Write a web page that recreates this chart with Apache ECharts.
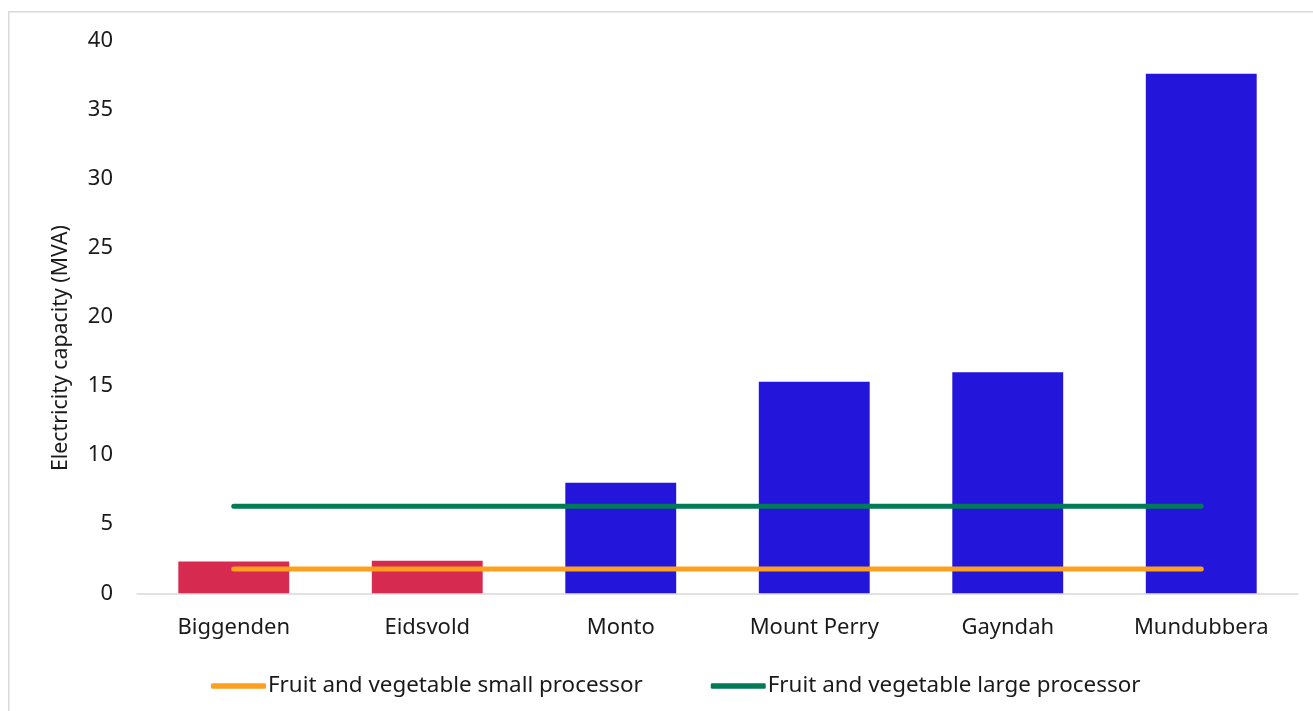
<!DOCTYPE html>
<html>
<head>
<meta charset="utf-8">
<title>Electricity capacity by town</title>
<script src="https://cdn.jsdelivr.net/npm/echarts@6/dist/echarts.min.js"></script>
<style>
  html, body { margin: 0; padding: 0; background: #ffffff; }
  #chart { width: 1313px; height: 711px; }
</style>
</head>
<body>
<div id="chart"></div>
<script>
// Substation capacity available in each town (MVA)
const towns = ['Biggenden', 'Eidsvold', 'Monto', 'Mount Perry', 'Gayndah', 'Mundubbera'];
const capacity = [2.3, 2.35, 8.0, 15.3, 16.0, 37.6];

// Electricity demand of a typical processor (MVA), one value per town
const smallProcessor = [1.75, 1.75, 1.75, 1.75, 1.75, 1.75];
const largeProcessor = [6.3, 6.3, 6.3, 6.3, 6.3, 6.3];

const yTicks = { min: 0, max: 40, interval: 5 };

const RED = '#D72A50';
const BLUE = '#2315DA';
const ORANGE = '#FE9F1D';
const GREEN = '#017B55';
const FONT = '"Noto Sans", "Open Sans", sans-serif';
const TEXT = '#1a1a1a';

const chart = echarts.init(document.getElementById('chart'), null, { renderer: 'canvas' });

chart.setOption({
  animation: false,
  backgroundColor: '#ffffff',
  textStyle: { fontFamily: FONT, color: TEXT },
  grid: { left: 137, right: 15, top: 40.5, bottom: 117.7, containLabel: false },
  graphic: [
    {
      type: 'rect',
      silent: true,
      shape: { x: 8.75, y: 11.75, width: 1320, height: 720 },
      style: { fill: 'none', stroke: '#d9d9d9', lineWidth: 1.5 }
    },
    {
      type: 'text',
      silent: true,
      x: 61,
      y: 348,
      rotation: Math.PI / 2,
      style: {
        text: 'Electricity capacity (MVA)',
        font: '21.3px ' + FONT,
        fill: TEXT,
        align: 'center',
        verticalAlign: 'middle'
      }
    }
  ],
  legend: {
    left: 206,
    top: 670,
    itemWidth: 55,
    itemHeight: 5.5,
    itemGap: 68,
    icon: 'roundRect',
    data: ['Fruit and vegetable small processor', 'Fruit and vegetable large processor'],
    textStyle: { fontFamily: FONT, fontSize: 22.4, color: TEXT, lineHeight: 22, padding: [0, 0, 0, -3] }
  },
  xAxis: {
    type: 'category',
    data: towns,
    boundaryGap: true,
    axisLine: { show: true, lineStyle: { color: '#d9d9d9', width: 1.5 } },
    axisTick: { show: false },
    axisLabel: { fontFamily: FONT, fontSize: 22, color: TEXT, margin: 23, interval: 0 },
    splitLine: { show: false }
  },
  yAxis: {
    type: 'value',
    min: yTicks.min,
    max: yTicks.max,
    interval: yTicks.interval,
    axisLine: { show: false },
    axisTick: { show: false },
    splitLine: { show: false },
    axisLabel: { fontFamily: FONT, fontSize: 22, color: TEXT, margin: 24 }
  },
  series: [
    {
      name: 'Electricity capacity',
      type: 'bar',
      data: capacity,
      barWidth: '57.3%',
      itemStyle: {
        // towns that cannot supply a large processor are shown in red
        color: p => (p.value < largeProcessor[p.dataIndex] ? RED : BLUE)
      },
      z: 2
    },
    {
      name: 'Fruit and vegetable small processor',
      type: 'line',
      data: smallProcessor,
      symbol: 'none',
      color: ORANGE,
      lineStyle: { color: ORANGE, width: 5, cap: 'round' },
      z: 3
    },
    {
      name: 'Fruit and vegetable large processor',
      type: 'line',
      data: largeProcessor,
      symbol: 'none',
      color: GREEN,
      lineStyle: { color: GREEN, width: 5, cap: 'round' },
      z: 3
    }
  ]
});
</script>
</body>
</html>
